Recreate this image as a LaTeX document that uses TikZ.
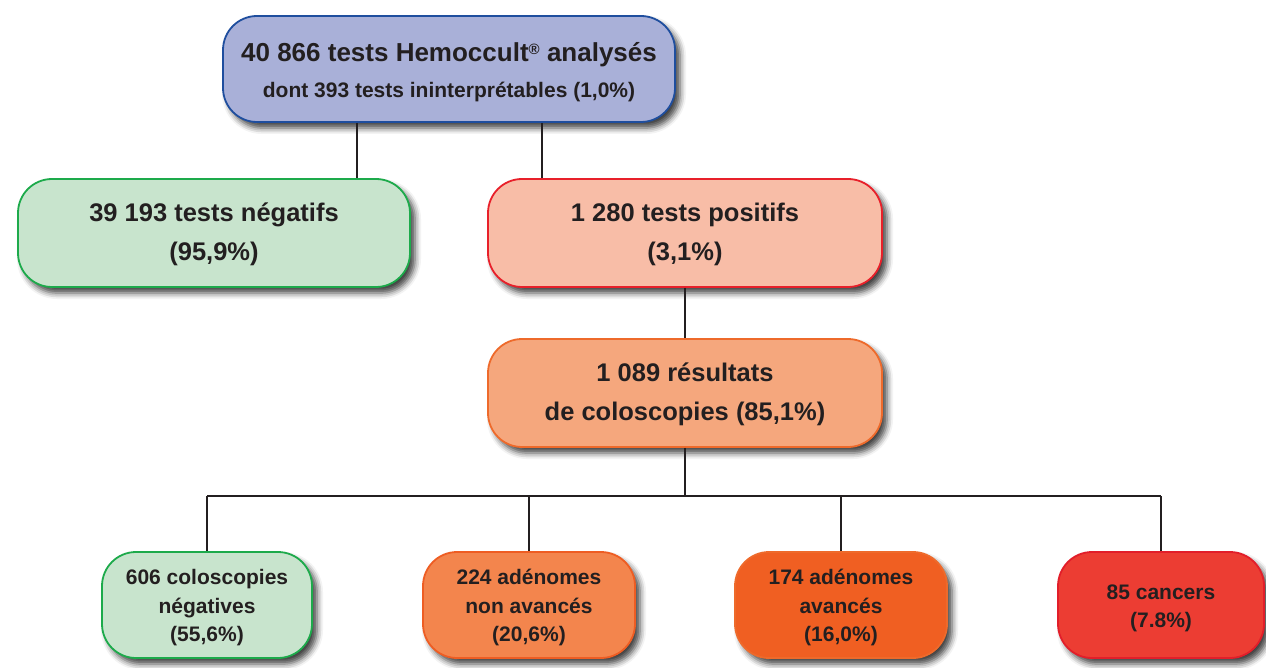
\documentclass[tikz,border=0pt]{standalone}
\usepackage{fontspec}
\setmainfont{Liberation Sans}
\usetikzlibrary{shadows.blur}
\definecolor{txt}{HTML}{231F20}
\definecolor{topfill}{HTML}{A9B0D8}
\definecolor{topdraw}{HTML}{1F4E9E}
\definecolor{negfill}{HTML}{C8E4CD}
\definecolor{negdraw}{HTML}{1DAA4B}
\definecolor{posfill}{HTML}{F8BDA7}
\definecolor{posdraw}{HTML}{E8202A}
\definecolor{colfill}{HTML}{F5A77D}
\definecolor{coldraw}{HTML}{EE6A2B}
\definecolor{nafill}{HTML}{F3854D}
\definecolor{nadraw}{HTML}{EE5D23}
\definecolor{avfill}{HTML}{F05F22}
\definecolor{avdraw}{HTML}{EE6A2B}
\definecolor{cafill}{HTML}{EC3D33}
\definecolor{cadraw}{HTML}{E21E2A}
\newcommand{\topstrut}[1]{\rule{0pt}{#1}}
\begin{document}
\begin{tikzpicture}[x=1pt,y=-1pt,
  boxbase/.style={rounded corners=34pt, line width=1.8pt, align=center, text=txt,
    inner sep=0pt,
    blur shadow={shadow xshift=5pt, shadow yshift=-6pt, shadow blur radius=6pt, shadow opacity=75}},
  bigbox/.style={boxbase, minimum width=#1, minimum height=108pt,
    font=\bfseries\fontsize{25.5}{39}\selectfont},
  smallbox/.style={boxbase, minimum width=#1, minimum height=106pt,
    font=\bfseries\fontsize{21}{28.5}\selectfont},
  conn/.style={draw=txt, line width=2pt},
  hconn/.style={draw=txt, line width=1.6pt}]
\useasboundingbox (0,0) rectangle (1266,668);
\node[boxbase, minimum width=452pt, minimum height=106pt, fill=topfill, draw=topdraw,
  font=\bfseries\fontsize{26}{36}\selectfont] (top) at (449,69)
  {\topstrut{26pt}40 866 tests Hemoccult\raisebox{0.28em}{\fontsize{15}{15}\selectfont ®} analysés\\
   \fontsize{21}{36}\selectfont dont 393 tests ininterprétables (1,0\%)};
\node[bigbox=392pt, fill=negfill, draw=negdraw] (neg) at (214,233)
  {\topstrut{21pt}39 193 tests négatifs\\ (95,9\%)};
\node[bigbox=394pt, fill=posfill, draw=posdraw] (pos) at (685,233)
  {\topstrut{21pt}1 280 tests positifs\\ (3,1\%)};
\node[bigbox=394pt, fill=colfill, draw=coldraw] (colo) at (685,393)
  {\topstrut{21pt}1 089 résultats\\ de coloscopies (85,1\%)};
\node[smallbox=210pt, fill=negfill, draw=negdraw] (b1) at (207,605)
  {\topstrut{21pt}606 coloscopies\\ négatives\\ (55,6\%)};
\node[smallbox=212pt, fill=nafill, draw=nadraw] (b2) at (529,605)
  {\topstrut{21pt}224 adénomes\\ non avancés\\ (20,6\%)};
\node[smallbox=212pt, fill=avfill, draw=avdraw] (b3) at (841,605)
  {\topstrut{21pt}174 adénomes\\ avancés\\ (16,0\%)};
\node[smallbox=206pt, fill=cafill, draw=cadraw] (b4) at (1161,605)
  {\topstrut{21pt}85 cancers\\ (7.8\%)};
\coordinate (hl) at (685,496);
\draw[conn] (top.south -| 357,0) -- (neg.north -| 357,0);
\draw[conn] (top.south -| 542,0) -- (pos.north -| 542,0);
\draw[conn] (pos.south) -- (colo.north);
\draw[conn] (colo.south) -- (hl);
\draw[hconn] (b1.north |- hl) -- (b4.north |- hl);
\draw[conn] (b1.north |- hl) -- (b1.north);
\draw[conn] (b2.north |- hl) -- (b2.north);
\draw[conn] (b3.north |- hl) -- (b3.north);
\draw[conn] (b4.north |- hl) -- (b4.north);
\end{tikzpicture}
\end{document}
